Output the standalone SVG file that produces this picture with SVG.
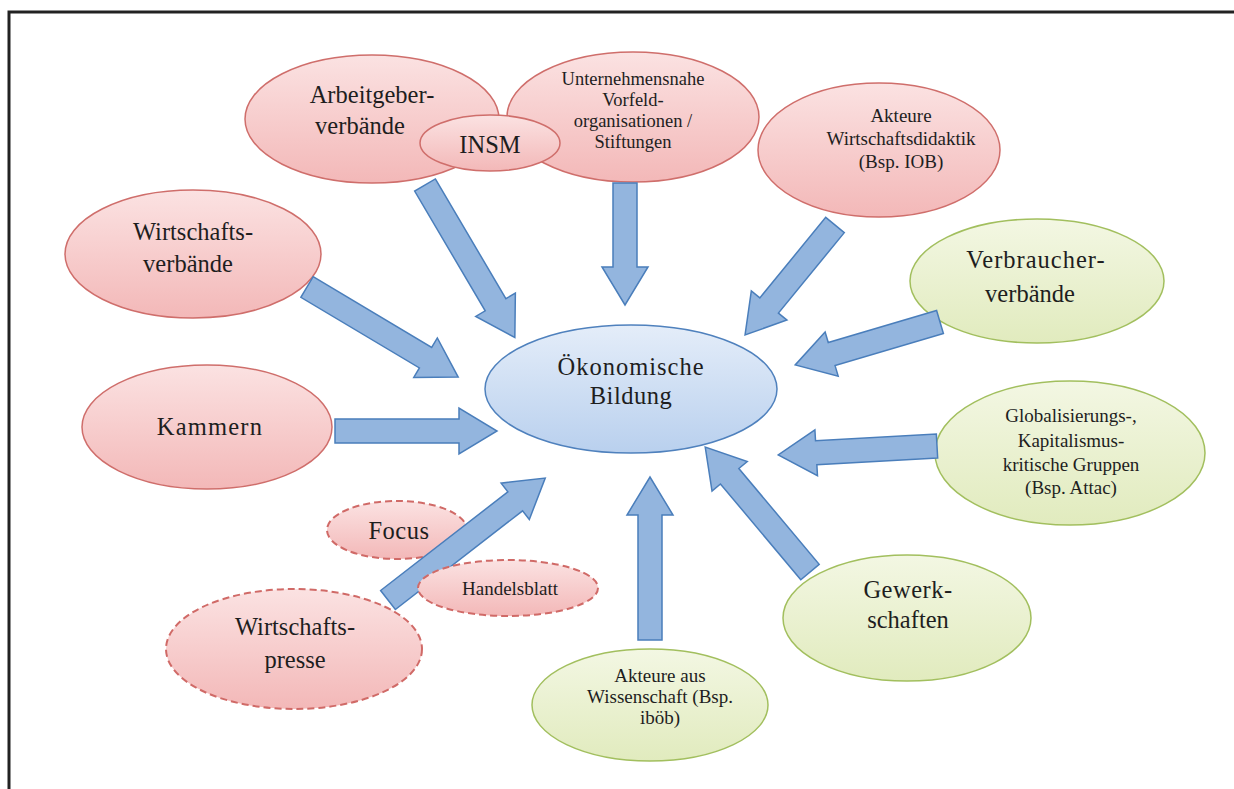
<svg xmlns="http://www.w3.org/2000/svg" width="1234" height="789" viewBox="0 0 1234 789" font-family="'Liberation Serif', 'DejaVu Serif', serif">
  <defs>
    <linearGradient id="gRed" x1="0" y1="0" x2="0" y2="1">
      <stop offset="0" stop-color="#fbe2e2"/>
      <stop offset="1" stop-color="#f3b8b8"/>
    </linearGradient>
    <linearGradient id="gGreen" x1="0" y1="0" x2="0" y2="1">
      <stop offset="0" stop-color="#f3f7e3"/>
      <stop offset="1" stop-color="#e1ebbe"/>
    </linearGradient>
    <linearGradient id="gBlue" x1="0" y1="0" x2="0" y2="1">
      <stop offset="0" stop-color="#e4edf9"/>
      <stop offset="1" stop-color="#b9d0ee"/>
    </linearGradient>
  </defs>
  <style>
    .red { fill: url(#gRed); stroke: #cf6e6b; stroke-width: 1.5; }
    .dash { fill: url(#gRed); stroke: #d06a67; stroke-width: 2; stroke-dasharray: 7 4; }
    .green { fill: url(#gGreen); stroke: #a2bf5e; stroke-width: 1.5; }
    .blue { fill: url(#gBlue); stroke: #4f81bd; stroke-width: 1.5; }
    .arrow { fill: #93b5de; stroke: #4a7ebb; stroke-width: 1.5; stroke-linejoin: miter; }
    .t { fill: #1e1e1e; text-anchor: middle; }
    .l { font-size: 24.5px; }
    .m { font-size: 19px; }
    .s { font-size: 18.5px; }
  </style>

  <rect width="1234" height="789" fill="#ffffff"/>
  <!-- frame -->
  <path d="M9,789 V12 H1234" fill="none" stroke="#222" stroke-width="3"/>

  <g id="node-arbeitgeber">
    <ellipse class="red" cx="372" cy="119" rx="127" ry="64"/>
    <text class="t l" x="372" y="103">Arbeitgeber-</text>
    <text class="t l" x="360" y="134">verbände</text>
  </g>
  <g id="node-vorfeld">
    <ellipse class="red" cx="633" cy="117" rx="126" ry="65"/>
    <text class="t s" x="633" y="85">Unternehmensnahe</text>
    <text class="t s" x="633" y="106">Vorfeld-</text>
    <text class="t s" x="633" y="127">organisationen /</text>
    <text class="t s" x="633" y="148">Stiftungen</text>
  </g>
  <g id="node-insm">
    <ellipse class="red" cx="490" cy="143" rx="70" ry="28"/>
    <text class="t l" x="490" y="153">INSM</text>
  </g>
  <g id="node-wirtschaftsdidaktik">
    <ellipse class="red" cx="879" cy="150" rx="121" ry="67"/>
    <text class="t m" x="901" y="122">Akteure</text>
    <text class="t m" x="901" y="145">Wirtschaftsdidaktik</text>
    <text class="t m" x="901" y="168">(Bsp. IOB)</text>
  </g>
  <g id="node-wirtschaftsverbaende">
    <ellipse class="red" cx="193" cy="254" rx="128" ry="64"/>
    <text class="t l" x="193" y="240">Wirtschafts-</text>
    <text class="t l" x="188" y="272">verbände</text>
  </g>
  <g id="node-kammern">
    <ellipse class="red" cx="207" cy="427" rx="125" ry="62"/>
    <text class="t l" x="210" y="435" letter-spacing="1.2">Kammern</text>
  </g>
  <g id="node-verbraucher">
    <ellipse class="green" cx="1037" cy="281" rx="127" ry="62"/>
    <text class="t l" x="1036" y="268" letter-spacing="1">Verbraucher-</text>
    <text class="t l" x="1030" y="302">verbände</text>
  </g>
  <g id="node-globalisierung">
    <ellipse class="green" cx="1070" cy="453" rx="135" ry="72"/>
    <text class="t m" x="1071" y="422">Globalisierungs-,</text>
    <text class="t m" x="1071" y="447">Kapitalismus-</text>
    <text class="t m" x="1071" y="471">kritische Gruppen</text>
    <text class="t m" x="1071" y="494">(Bsp. Attac)</text>
  </g>
  <g id="node-gewerkschaften">
    <ellipse class="green" cx="907" cy="618" rx="124" ry="63"/>
    <text class="t l" x="908" y="598" letter-spacing="0.5">Gewerk-</text>
    <text class="t l" x="908" y="628">schaften</text>
  </g>
  <g id="node-wissenschaft">
    <ellipse class="green" cx="650" cy="705" rx="118" ry="56"/>
    <text class="t m" x="660" y="682">Akteure aus</text>
    <text class="t m" x="660" y="703">Wissenschaft (Bsp.</text>
    <text class="t m" x="660" y="724">iböb)</text>
  </g>
  <g id="node-oekonomische-bildung">
    <ellipse class="blue" cx="631" cy="389" rx="146" ry="64"/>
    <text class="t l" x="631" y="375" letter-spacing="1">Ökonomische</text>
    <text class="t l" x="631" y="404" letter-spacing="0.5">Bildung</text>
  </g>
  <g id="node-focus">
    <ellipse class="dash" cx="397" cy="530" rx="70" ry="29"/>
    <text class="t l" x="399" y="539" letter-spacing="0.5">Focus</text>
  </g>
  <g id="node-wirtschaftspresse">
    <ellipse class="dash" cx="294" cy="649" rx="128" ry="60"/>
    <text class="t l" x="295" y="635">Wirtschafts-</text>
    <text class="t l" x="295" y="668">presse</text>
  </g>

  <!-- block arrows pointing toward the centre -->
  <g id="connectors">
    <path class="arrow" transform="translate(307,287) rotate(30.8)" d="M0,-12 H138 V-23 L176,0 L138,23 V12 H0 Z"/>
    <path class="arrow" transform="translate(425,185) rotate(59.5)" d="M0,-12 H139 V-23 L177,0 L139,23 V12 H0 Z"/>
    <path class="arrow" transform="translate(625,183) rotate(90)" d="M0,-12 H84 V-23 L122,0 L84,23 V12 H0 Z"/>
    <path class="arrow" transform="translate(835,225) rotate(129.3)" d="M0,-12 H104 V-23 L142,0 L104,23 V12 H0 Z"/>
    <path class="arrow" transform="translate(940,322) rotate(163.5)" d="M0,-12 H113 V-23 L151,0 L113,23 V12 H0 Z"/>
    <path class="arrow" transform="translate(937,446) rotate(176.8)" d="M0,-12 H121 V-23 L159,0 L121,23 V12 H0 Z"/>
    <path class="arrow" transform="translate(810,572) rotate(230)" d="M0,-12 H125 V-23 L163,0 L125,23 V12 H0 Z"/>
    <path class="arrow" transform="translate(650,640) rotate(-90)" d="M0,-12 H125 V-23 L163,0 L125,23 V12 H0 Z"/>
    <path class="arrow" transform="translate(388,600) rotate(-37.8)" d="M0,-12 H161 V-23 L199,0 L161,23 V12 H0 Z"/>
    <path class="arrow" transform="translate(335,431)" d="M0,-12 H124 V-23 L162,0 L124,23 V12 H0 Z"/>
  </g>

  <g id="node-handelsblatt">
    <ellipse class="dash" cx="508" cy="588" rx="90" ry="28"/>
    <text class="t m" x="510" y="595">Handelsblatt</text>
  </g>
</svg>
